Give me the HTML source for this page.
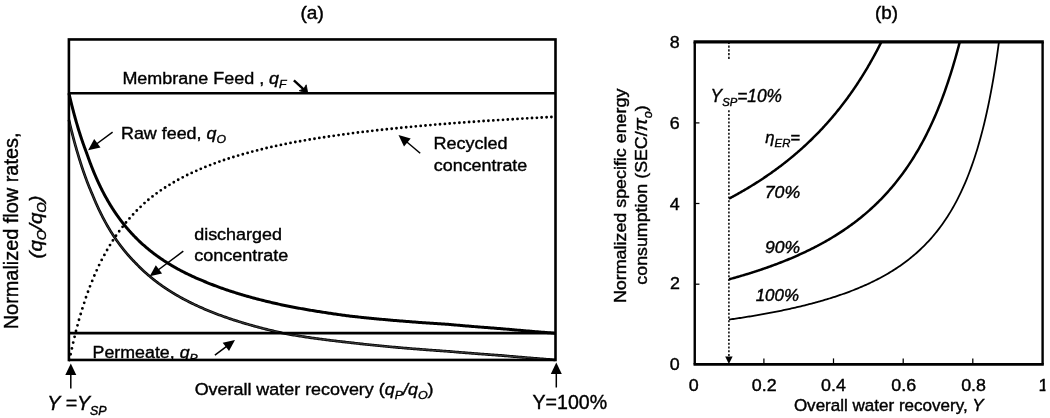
<!DOCTYPE html>
<html><head><meta charset="utf-8"><title>figure</title>
<style>
html,body{margin:0;padding:0;background:#fff;}
body{width:1050px;height:418px;overflow:hidden;}
svg{display:block;}
text{font-family:"Liberation Sans",Arial,sans-serif;fill:#000;stroke:#000;stroke-width:0.4px;}
.i{font-style:italic;}
</style></head><body>
<svg width="1050" height="418" viewBox="0 0 1050 418">
<rect width="1050" height="418" fill="#fff"/>
<defs>
<clipPath id="ca"><rect x="68.9" y="39.45" width="486.6" height="320.5"/></clipPath>
<clipPath id="cb"><rect x="694.75" y="41.85" width="347.8499999999999" height="322.54999999999995"/></clipPath>
<clipPath id="c1"><rect x="1030" y="370" width="15.5" height="30"/></clipPath>
</defs>

<!-- ===== (a) ===== -->
<g fill="none" stroke="#000" stroke-linejoin="round">
<path d="M69.4,360.0h0M70.6,354.2h0M71.9,348.4h0M73.2,342.6h0M74.6,336.8h0M76.0,331.0h0M77.5,325.3h0M79.0,319.7h0M80.7,314.0h0M82.4,308.4h0M84.2,302.8h0M86.0,297.2h0M88.0,291.7h0M90.0,286.3h0M92.2,280.9h0M94.4,275.5h0M96.7,270.3h0M99.1,265.1h0M101.7,259.9h0M104.4,254.9h0M107.1,250.0h0M110.0,245.1h0M112.9,240.4h0M116.0,235.7h0M119.2,231.2h0M122.6,226.8h0M126.0,222.5h0M129.5,218.4h0M133.1,214.4h0M136.8,210.5h0M140.6,206.8h0M144.5,203.1h0M148.4,199.7h0M152.5,196.4h0M156.6,193.3h0M160.8,190.3h0M165.1,187.5h0M169.5,184.8h0M173.8,182.2h0M178.2,179.7h0M182.7,177.3h0M187.2,175.0h0M191.7,172.9h0M196.3,170.8h0M200.8,168.8h0M205.4,166.9h0M210.1,165.1h0M214.7,163.3h0M219.4,161.6h0M224.0,160.0h0M228.7,158.5h0M233.4,157.0h0M238.1,155.6h0M242.8,154.2h0M247.6,152.9h0M252.3,151.6h0M257.1,150.4h0M261.8,149.2h0M266.6,148.0h0M271.4,146.9h0M276.1,145.9h0M280.9,144.9h0M285.7,143.9h0M290.5,142.9h0M295.3,142.0h0M300.1,141.2h0M304.9,140.3h0M309.7,139.5h0M314.5,138.7h0M319.3,137.9h0M324.1,137.2h0M328.9,136.5h0M333.7,135.8h0M338.6,135.1h0M343.4,134.4h0M348.2,133.8h0M353.0,133.1h0M357.9,132.5h0M362.7,131.9h0M367.5,131.4h0M372.3,130.8h0M377.2,130.2h0M382.0,129.7h0M386.8,129.2h0M391.7,128.7h0M396.5,128.2h0M401.3,127.7h0M406.2,127.2h0M411.0,126.8h0M415.8,126.3h0M420.7,125.9h0M425.5,125.5h0M430.4,125.1h0M435.2,124.6h0M440.0,124.2h0M444.9,123.9h0M449.7,123.5h0M454.5,123.1h0M459.4,122.7h0M464.2,122.4h0M469.1,122.0h0M473.9,121.7h0M478.8,121.3h0M483.6,121.0h0M488.4,120.7h0M493.3,120.4h0M498.1,120.1h0M503.0,119.8h0M507.8,119.5h0M512.7,119.2h0M517.5,118.9h0M522.4,118.6h0M527.2,118.3h0M532.0,118.0h0M536.9,117.8h0M541.7,117.5h0M546.6,117.2h0M551.4,117.0h0" stroke-width="2.85" stroke-linecap="round"/>
<path d="M68.90,119.78 L69.20,121.11 L69.51,122.42 L69.81,123.72 L70.11,125.00 L70.42,126.27 L70.72,127.53 L71.03,128.78 L71.33,130.02 L71.63,131.24 L71.94,132.45 L72.24,133.65 L72.54,134.84 L72.85,136.01 L73.15,137.18 L73.45,138.33 L73.76,139.47 L74.06,140.61 L74.36,141.73 L74.67,142.84 L74.97,143.94 L75.27,145.03 L75.58,146.11 L75.88,147.18 L76.18,148.24 L76.48,149.29 L76.79,150.33 L77.09,151.37 L77.39,152.39 L77.70,153.40 L78.00,154.41 L78.29,155.41 L78.59,156.39 L78.88,157.37 L79.18,158.35 L79.48,159.31 L79.77,160.26 L80.07,161.21 L80.36,162.15 L80.66,163.08 L80.95,164.00 L81.25,164.91 L81.54,165.82 L81.84,166.72 L82.13,167.61 L82.43,168.49 L82.72,169.37 L83.02,170.24 L83.31,171.10 L83.61,171.95 L83.90,172.80 L84.20,173.64 L84.49,174.48 L84.79,175.30 L85.08,176.12 L85.38,176.94 L85.67,177.74 L85.97,178.54 L86.26,179.34 L86.55,180.12 L86.85,180.91 L87.14,181.68 L87.44,182.45 L87.73,183.21 L88.02,183.97 L88.32,184.72 L88.61,185.47 L88.91,186.20 L89.20,186.94 L89.49,187.67 L89.79,188.39 L90.08,189.10 L90.38,189.82 L90.67,190.52 L90.96,191.22 L91.26,191.92 L91.55,192.61 L91.84,193.29 L92.14,193.97 L92.43,194.64 L92.72,195.31 L92.99,195.99 L93.26,196.65 L93.54,197.32 L93.81,197.97 L94.08,198.63 L94.35,199.28 L94.63,199.92 L94.90,200.56 L95.17,201.20 L95.44,201.83 L95.71,202.45 L95.99,203.07 L96.26,203.69 L96.53,204.30 L96.80,204.91 L97.07,205.52 L97.35,206.12 L97.62,206.72 L97.89,207.31 L98.16,207.90 L98.43,208.48 L98.71,209.06 L98.98,209.64 L99.25,210.21 L99.52,210.78 L99.79,211.35 L100.07,211.91 L100.34,212.46 L100.61,213.02 L100.88,213.57 L101.15,214.12 L101.42,214.66 L101.70,215.20 L101.97,215.73 L102.24,216.27 L102.51,216.80 L102.78,217.32 L103.05,217.85 L103.32,218.36 L103.60,218.88 L103.87,219.39 L104.14,219.90 L104.41,220.41 L104.68,220.91 L104.95,221.41 L105.22,221.91 L105.50,222.40 L105.77,222.89 L106.04,223.38 L106.31,223.86 L106.58,224.34 L106.85,224.82 L107.12,225.30 L107.39,225.77 L107.67,226.24 L107.94,226.71 L108.21,227.17 L108.48,227.63 L108.75,228.09 L109.02,228.55 L109.29,229.00 L109.56,229.45 L109.83,229.90 L110.10,230.34 L110.37,230.79 L110.65,231.23 L110.92,231.66 L111.19,232.10 L111.46,232.53 L111.73,232.96 L112.00,233.39 L112.27,233.81 L112.54,234.23 L112.81,234.65 L113.08,235.07 L113.35,235.48 L113.62,235.90 L113.89,236.31 L114.16,236.71 L114.44,237.12 L114.71,237.52 L114.98,237.92 L115.25,238.32 L115.52,238.72 L115.79,239.11 L116.06,239.51 L116.33,239.90 L116.60,240.28 L116.87,240.67 L117.14,241.05 L117.41,241.43 L117.68,241.81 L117.95,242.19 L118.22,242.56 L118.49,242.94 L118.76,243.31 L119.03,243.68 L119.30,244.04 L119.57,244.41 L119.84,244.77 L120.11,245.13 L120.38,245.49 L120.65,245.85 L120.92,246.20 L121.19,246.56 L121.46,246.91 L121.73,247.26 L122.00,247.61 L122.27,247.95 L122.54,248.30 L122.81,248.64 L123.08,248.98 L123.35,249.32 L123.62,249.66 L123.89,249.99 L124.16,250.32 L124.43,250.66 L124.70,250.99 L124.97,251.31 L125.24,251.64 L125.51,251.97 L125.78,252.29 L126.05,252.61 L126.32,252.93 L126.59,253.25 L126.86,253.57 L127.13,253.88 L127.39,254.20 L127.66,254.51 L127.93,254.82 L128.20,255.13 L128.47,255.44 L128.74,255.74 L129.01,256.05 L129.28,256.35 L129.55,256.65 L129.82,256.95 L130.09,257.25 L130.36,257.55 L130.63,257.84 L130.90,258.14 L131.17,258.43 L131.44,258.72 L131.71,259.01 L131.97,259.30 L132.24,259.59 L132.51,259.87 L132.78,260.16 L133.05,260.44 L133.32,260.72 L133.59,261.00 L133.86,261.28 L134.13,261.56 L134.40,261.84 L134.67,262.11 L134.94,262.39 L135.20,262.66 L135.47,262.93 L135.74,263.20 L136.01,263.47 L136.27,263.75 L136.53,264.02 L136.80,264.29 L137.06,264.56 L137.32,264.83 L137.58,265.10 L137.85,265.37 L138.11,265.63 L138.37,265.90 L138.63,266.16 L138.90,266.43 L139.16,266.69 L139.42,266.95 L139.68,267.21 L139.95,267.47 L140.21,267.72 L140.47,267.98 L140.73,268.23 L141.00,268.49 L141.26,268.74 L141.52,268.99 L141.78,269.24 L142.05,269.49 L142.31,269.74 L142.57,269.99 L142.84,270.23 L143.10,270.48 L143.36,270.72 L143.62,270.97 L143.89,271.21 L144.15,271.45 L144.41,271.69 L144.68,271.93 L144.94,272.17 L145.20,272.41 L145.47,272.64 L145.73,272.88 L145.99,273.11 L146.25,273.35 L146.52,273.58 L146.78,273.81 L147.04,274.04 L147.31,274.27 L147.57,274.50 L147.83,274.73 L148.10,274.96 L148.36,275.18 L148.62,275.41 L148.89,275.63 L149.15,275.86 L149.41,276.08 L149.68,276.30 L149.94,276.52 L150.20,276.74 L150.47,276.96 L150.73,277.18 L151.00,277.40 L151.26,277.61 L151.52,277.83 L151.79,278.05 L152.05,278.26 L152.31,278.47 L152.58,278.69 L152.84,278.90 L153.10,279.11 L153.37,279.32 L153.63,279.53 L153.90,279.74 L154.16,279.94 L154.42,280.15 L154.69,280.36 L154.95,280.56 L155.21,280.77 L155.48,280.97 L155.74,281.18 L156.01,281.38 L156.27,281.58 L156.53,281.78 L156.80,281.98 L157.06,282.18 L157.33,282.38 L157.59,282.58 L157.85,282.78 L158.12,282.97 L158.38,283.17 L158.65,283.36 L158.91,283.56 L159.18,283.75 L159.44,283.94 L159.70,284.14 L159.97,284.33 L160.23,284.52 L160.50,284.71 L160.76,284.90 L161.03,285.09 L161.29,285.28 L161.56,285.46 L161.82,285.65 L162.08,285.84 L162.35,286.02 L162.61,286.21 L162.88,286.39 L163.14,286.58 L163.41,286.76 L163.67,286.94 L163.94,287.12 L164.20,287.31 L164.47,287.49 L164.73,287.67 L165.00,287.85 L165.26,288.02 L165.52,288.20 L165.79,288.38 L166.05,288.56 L166.32,288.73 L166.58,288.91 L166.85,289.08 L167.11,289.26 L167.38,289.43 L167.64,289.60 L167.91,289.78 L168.17,289.95 L168.44,290.12 L168.70,290.29 L168.97,290.46 L169.23,290.63 L169.50,290.80 L169.76,290.97 L170.03,291.14 L170.29,291.30 L170.56,291.47 L170.83,291.64 L171.09,291.80 L171.36,291.97 L171.62,292.13 L171.89,292.30 L172.15,292.46 L172.42,292.63 L172.68,292.79 L172.95,292.95 L173.21,293.11 L173.48,293.27 L173.74,293.43 L174.01,293.59 L174.28,293.75 L174.54,293.91 L174.81,294.07 L175.07,294.23 L175.34,294.38 L175.60,294.54 L175.87,294.70 L176.13,294.85 L176.40,295.01 L176.67,295.16 L176.93,295.32 L177.20,295.47 L177.46,295.63 L177.73,295.78 L177.99,295.93 L179.24,296.64 L180.48,297.34 L181.72,298.02 L182.96,298.70 L184.20,299.37 L185.45,300.03 L186.69,300.67 L187.94,301.32 L189.18,301.95 L190.42,302.57 L191.67,303.18 L192.92,303.79 L194.16,304.39 L195.41,304.98 L196.66,305.56 L197.90,306.14 L199.15,306.70 L200.40,307.26 L201.65,307.82 L202.89,308.36 L204.14,308.90 L205.39,309.44 L206.64,309.96 L207.89,310.48 L209.14,310.99 L210.39,311.50 L211.64,312.00 L212.90,312.50 L214.15,312.99 L215.40,313.47 L216.65,313.95 L217.90,314.42 L219.16,314.89 L220.41,315.35 L221.66,315.80 L222.91,316.26 L224.17,316.70 L225.42,317.14 L226.68,317.58 L227.93,318.01 L229.18,318.44 L230.44,318.86 L231.69,319.28 L232.95,319.69 L234.20,320.10 L235.46,320.50 L236.72,320.90 L237.97,321.30 L239.23,321.69 L240.48,322.08 L241.74,322.46 L243.00,322.84 L244.25,323.22 L245.51,323.59 L246.77,323.96 L248.03,324.32 L249.28,324.68 L250.54,325.04 L251.80,325.40 L253.06,325.75 L254.32,326.09 L255.57,326.44 L256.83,326.78 L258.09,327.12 L259.35,327.45 L260.61,327.78 L261.87,328.11 L263.13,328.44 L264.39,328.76 L265.65,329.08 L266.90,329.39 L268.16,329.71 L269.42,330.02 L270.68,330.32 L271.94,330.63 L273.20,330.93 L274.46,331.23 L275.72,331.53 L276.98,331.82 L278.24,332.12 L279.51,332.40 L280.77,332.69 L282.03,332.98 L283.29,333.26 L284.55,333.54 L285.82,333.78 L287.09,334.01 L288.36,334.22 L289.63,334.44 L290.90,334.65 L292.17,334.87 L293.44,335.07 L294.72,335.28 L295.99,335.49 L297.26,335.69 L298.53,335.89 L299.80,336.09 L301.07,336.29 L302.34,336.48 L303.61,336.68 L304.88,336.87 L306.15,337.06 L307.42,337.24 L308.69,337.43 L309.96,337.61 L311.23,337.79 L312.50,337.97 L313.77,338.15 L315.04,338.33 L316.31,338.50 L317.58,338.68 L318.85,338.85 L320.12,339.02 L321.39,339.19 L322.66,339.35 L323.93,339.52 L325.20,339.68 L326.47,339.84 L327.74,340.00 L329.01,340.16 L330.27,340.32 L331.54,340.48 L332.81,340.63 L334.08,340.78 L335.35,340.93 L336.62,341.08 L337.89,341.23 L339.16,341.38 L340.42,341.53 L341.69,341.67 L342.96,341.81 L344.23,341.96 L345.50,342.10 L346.77,342.23 L348.04,342.37 L349.30,342.51 L350.57,342.65 L351.84,342.80 L353.10,342.95 L354.37,343.09 L355.64,343.24 L356.90,343.38 L358.17,343.52 L359.44,343.66 L360.70,343.80 L361.97,343.94 L363.24,344.08 L364.50,344.22 L365.77,344.35 L367.04,344.49 L368.30,344.62 L369.57,344.76 L370.83,344.89 L372.10,345.02 L373.37,345.15 L374.63,345.28 L375.90,345.40 L377.17,345.53 L378.43,345.66 L379.70,345.78 L380.96,345.91 L382.23,346.03 L383.50,346.15 L384.76,346.27 L386.03,346.39 L387.29,346.51 L388.56,346.63 L389.83,346.75 L391.09,346.86 L392.36,346.98 L393.63,347.09 L394.89,347.21 L396.16,347.32 L397.42,347.43 L398.69,347.54 L399.96,347.65 L401.22,347.76 L402.49,347.87 L403.75,347.98 L405.02,348.09 L406.29,348.19 L407.55,348.30 L408.82,348.41 L410.08,348.51 L411.35,348.61 L412.62,348.72 L413.88,348.82 L415.15,348.92 L416.41,349.02 L417.68,349.12 L418.95,349.22 L420.21,349.32 L421.48,349.42 L422.74,349.51 L424.01,349.61 L425.28,349.71 L426.54,349.80 L427.81,349.90 L429.07,349.99 L430.34,350.08 L431.61,350.17 L432.87,350.27 L434.14,350.36 L435.40,350.45 L436.67,350.54 L437.94,350.63 L439.20,350.72 L440.47,350.80 L441.73,350.89 L443.00,350.98 L444.27,351.07 L445.53,351.15 L446.80,351.24 L448.06,351.33 L449.33,351.44 L450.59,351.55 L451.85,351.66 L453.12,351.76 L454.38,351.87 L455.65,351.98 L456.91,352.08 L458.17,352.19 L459.44,352.29 L460.70,352.39 L461.97,352.50 L463.23,352.60 L464.50,352.70 L465.76,352.80 L467.02,352.90 L468.29,353.01 L469.55,353.11 L470.82,353.21 L472.08,353.30 L473.35,353.40 L474.61,353.50 L475.87,353.60 L477.14,353.70 L478.40,353.79 L479.67,353.89 L480.93,353.99 L482.20,354.08 L483.46,354.18 L484.72,354.27 L485.99,354.37 L487.25,354.46 L488.52,354.55 L489.78,354.65 L491.05,354.74 L492.31,354.83 L493.58,354.92 L494.84,355.01 L496.10,355.10 L497.37,355.19 L498.63,355.28 L499.90,355.37 L501.16,355.46 L502.43,355.57 L503.69,355.68 L504.95,355.79 L506.22,355.90 L507.48,356.01 L508.74,356.12 L510.01,356.23 L511.27,356.34 L512.53,356.45 L513.80,356.56 L515.06,356.67 L516.32,356.77 L517.59,356.88 L518.85,356.99 L520.11,357.10 L521.38,357.20 L522.64,357.31 L523.90,357.41 L525.17,357.52 L526.43,357.62 L527.70,357.73 L528.96,357.83 L530.22,357.94 L531.49,358.04 L532.75,358.14 L534.01,358.25 L535.28,358.35 L536.54,358.45 L537.81,358.55 L539.07,358.66 L540.33,358.76 L541.60,358.86 L542.86,358.96 L544.12,359.06 L545.39,359.16 L546.65,359.26 L547.92,359.36 L549.18,359.46 L550.44,359.56 L551.71,359.66 L552.97,359.75 L554.24,359.85 L555.50,359.95" stroke-width="2.7"/>
<path d="M68.90,119.78 L69.20,121.11 L69.51,122.42 L69.81,123.72 L70.11,125.00 L70.42,126.27 L70.72,127.53 L71.03,128.78 L71.33,130.02 L71.63,131.24 L71.94,132.45 L72.24,133.65 L72.54,134.84 L72.85,136.01 L73.15,137.18 L73.45,138.33 L73.76,139.47 L74.06,140.61 L74.36,141.73 L74.67,142.84 L74.97,143.94 L75.27,145.03 L75.58,146.11 L75.88,147.18 L76.18,148.24 L76.48,149.29 L76.79,150.33 L77.09,151.37 L77.39,152.39 L77.70,153.40 L78.00,154.41 L78.29,155.41 L78.59,156.39 L78.88,157.37 L79.18,158.35 L79.48,159.31 L79.77,160.26 L80.07,161.21 L80.36,162.15 L80.66,163.08 L80.95,164.00 L81.25,164.91 L81.54,165.82 L81.84,166.72 L82.13,167.61 L82.43,168.49 L82.72,169.37 L83.02,170.24 L83.31,171.10 L83.61,171.95 L83.90,172.80 L84.20,173.64 L84.49,174.48 L84.79,175.30 L85.08,176.12 L85.38,176.94 L85.67,177.74 L85.97,178.54 L86.26,179.34 L86.55,180.12 L86.85,180.91 L87.14,181.68 L87.44,182.45 L87.73,183.21 L88.02,183.97 L88.32,184.72 L88.61,185.47 L88.91,186.20 L89.20,186.94 L89.49,187.67 L89.79,188.39 L90.08,189.10 L90.38,189.82 L90.67,190.52 L90.96,191.22 L91.26,191.92 L91.55,192.61 L91.84,193.29 L92.14,193.97 L92.43,194.64 L92.72,195.31 L92.99,195.99 L93.26,196.65 L93.54,197.32 L93.81,197.97 L94.08,198.63 L94.35,199.28 L94.63,199.92 L94.90,200.56 L95.17,201.20 L95.44,201.83 L95.71,202.45 L95.99,203.07 L96.26,203.69 L96.53,204.30 L96.80,204.91 L97.07,205.52 L97.35,206.12 L97.62,206.72 L97.89,207.31 L98.16,207.90 L98.43,208.48 L98.71,209.06 L98.98,209.64 L99.25,210.21 L99.52,210.78 L99.79,211.35 L100.07,211.91 L100.34,212.46 L100.61,213.02 L100.88,213.57 L101.15,214.12 L101.42,214.66 L101.70,215.20 L101.97,215.73 L102.24,216.27 L102.51,216.80 L102.78,217.32 L103.05,217.85 L103.32,218.36 L103.60,218.88 L103.87,219.39 L104.14,219.90 L104.41,220.41 L104.68,220.91 L104.95,221.41 L105.22,221.91 L105.50,222.40 L105.77,222.89 L106.04,223.38 L106.31,223.86 L106.58,224.34 L106.85,224.82 L107.12,225.30 L107.39,225.77 L107.67,226.24 L107.94,226.71 L108.21,227.17 L108.48,227.63 L108.75,228.09 L109.02,228.55 L109.29,229.00 L109.56,229.45 L109.83,229.90 L110.10,230.34 L110.37,230.79 L110.65,231.23 L110.92,231.66 L111.19,232.10 L111.46,232.53 L111.73,232.96 L112.00,233.39 L112.27,233.81 L112.54,234.23 L112.81,234.65 L113.08,235.07 L113.35,235.48 L113.62,235.90 L113.89,236.31 L114.16,236.71 L114.44,237.12 L114.71,237.52 L114.98,237.92 L115.25,238.32 L115.52,238.72 L115.79,239.11 L116.06,239.51 L116.33,239.90 L116.60,240.28 L116.87,240.67 L117.14,241.05 L117.41,241.43 L117.68,241.81 L117.95,242.19 L118.22,242.56 L118.49,242.94 L118.76,243.31 L119.03,243.68 L119.30,244.04 L119.57,244.41 L119.84,244.77 L120.11,245.13 L120.38,245.49 L120.65,245.85 L120.92,246.20 L121.19,246.56 L121.46,246.91 L121.73,247.26 L122.00,247.61 L122.27,247.95 L122.54,248.30 L122.81,248.64 L123.08,248.98 L123.35,249.32 L123.62,249.66 L123.89,249.99 L124.16,250.32 L124.43,250.66 L124.70,250.99 L124.97,251.31 L125.24,251.64 L125.51,251.97 L125.78,252.29 L126.05,252.61 L126.32,252.93 L126.59,253.25 L126.86,253.57 L127.13,253.88 L127.39,254.20 L127.66,254.51 L127.93,254.82 L128.20,255.13 L128.47,255.44 L128.74,255.74 L129.01,256.05 L129.28,256.35 L129.55,256.65 L129.82,256.95 L130.09,257.25 L130.36,257.55 L130.63,257.84 L130.90,258.14 L131.17,258.43 L131.44,258.72 L131.71,259.01 L131.97,259.30 L132.24,259.59 L132.51,259.87 L132.78,260.16 L133.05,260.44 L133.32,260.72 L133.59,261.00 L133.86,261.28 L134.13,261.56 L134.40,261.84 L134.67,262.11 L134.94,262.39 L135.20,262.66 L135.47,262.93 L135.74,263.20 L136.01,263.47 L136.27,263.75 L136.53,264.02 L136.80,264.29 L137.06,264.56 L137.32,264.83 L137.58,265.10 L137.85,265.37 L138.11,265.63 L138.37,265.90 L138.63,266.16 L138.90,266.43 L139.16,266.69 L139.42,266.95 L139.68,267.21 L139.95,267.47 L140.21,267.72 L140.47,267.98 L140.73,268.23 L141.00,268.49 L141.26,268.74 L141.52,268.99 L141.78,269.24 L142.05,269.49 L142.31,269.74 L142.57,269.99 L142.84,270.23 L143.10,270.48 L143.36,270.72 L143.62,270.97 L143.89,271.21 L144.15,271.45 L144.41,271.69 L144.68,271.93 L144.94,272.17 L145.20,272.41 L145.47,272.64 L145.73,272.88 L145.99,273.11 L146.25,273.35 L146.52,273.58 L146.78,273.81 L147.04,274.04 L147.31,274.27 L147.57,274.50 L147.83,274.73 L148.10,274.96 L148.36,275.18 L148.62,275.41 L148.89,275.63 L149.15,275.86 L149.41,276.08 L149.68,276.30 L149.94,276.52 L150.20,276.74 L150.47,276.96 L150.73,277.18 L151.00,277.40 L151.26,277.61 L151.52,277.83 L151.79,278.05 L152.05,278.26 L152.31,278.47 L152.58,278.69 L152.84,278.90 L153.10,279.11 L153.37,279.32 L153.63,279.53 L153.90,279.74 L154.16,279.94 L154.42,280.15 L154.69,280.36 L154.95,280.56 L155.21,280.77 L155.48,280.97 L155.74,281.18 L156.01,281.38 L156.27,281.58 L156.53,281.78 L156.80,281.98 L157.06,282.18 L157.33,282.38 L157.59,282.58 L157.85,282.78 L158.12,282.97 L158.38,283.17 L158.65,283.36 L158.91,283.56 L159.18,283.75 L159.44,283.94 L159.70,284.14 L159.97,284.33 L160.23,284.52 L160.50,284.71 L160.76,284.90 L161.03,285.09 L161.29,285.28 L161.56,285.46 L161.82,285.65 L162.08,285.84 L162.35,286.02 L162.61,286.21 L162.88,286.39 L163.14,286.58 L163.41,286.76 L163.67,286.94 L163.94,287.12 L164.20,287.31 L164.47,287.49 L164.73,287.67 L165.00,287.85 L165.26,288.02 L165.52,288.20 L165.79,288.38 L166.05,288.56 L166.32,288.73 L166.58,288.91 L166.85,289.08 L167.11,289.26 L167.38,289.43 L167.64,289.60 L167.91,289.78 L168.17,289.95 L168.44,290.12 L168.70,290.29 L168.97,290.46 L169.23,290.63 L169.50,290.80 L169.76,290.97 L170.03,291.14 L170.29,291.30 L170.56,291.47 L170.83,291.64 L171.09,291.80 L171.36,291.97 L171.62,292.13 L171.89,292.30 L172.15,292.46 L172.42,292.63 L172.68,292.79 L172.95,292.95 L173.21,293.11 L173.48,293.27 L173.74,293.43 L174.01,293.59 L174.28,293.75 L174.54,293.91 L174.81,294.07 L175.07,294.23 L175.34,294.38 L175.60,294.54 L175.87,294.70 L176.13,294.85 L176.40,295.01 L176.67,295.16 L176.93,295.32 L177.20,295.47 L177.46,295.63 L177.73,295.78 L177.99,295.93 L179.24,296.64 L180.48,297.34 L181.72,298.02 L182.96,298.70 L184.20,299.37 L185.45,300.03 L186.69,300.67 L187.94,301.32 L189.18,301.95 L190.42,302.57 L191.67,303.18 L192.92,303.79 L194.16,304.39 L195.41,304.98 L196.66,305.56 L197.90,306.14 L199.15,306.70 L200.40,307.26 L201.65,307.82 L202.89,308.36 L204.14,308.90 L205.39,309.44 L206.64,309.96 L207.89,310.48 L209.14,310.99 L210.39,311.50 L211.64,312.00 L212.90,312.50 L214.15,312.99 L215.40,313.47 L216.65,313.95 L217.90,314.42 L219.16,314.89 L220.41,315.35 L221.66,315.80 L222.91,316.26 L224.17,316.70 L225.42,317.14 L226.68,317.58 L227.93,318.01 L229.18,318.44 L230.44,318.86 L231.69,319.28 L232.95,319.69 L234.20,320.10 L235.46,320.50 L236.72,320.90 L237.97,321.30 L239.23,321.69 L240.48,322.08 L241.74,322.46 L243.00,322.84 L244.25,323.22 L245.51,323.59 L246.77,323.96 L248.03,324.32 L249.28,324.68 L250.54,325.04 L251.80,325.40 L253.06,325.75 L254.32,326.09 L255.57,326.44 L256.83,326.78 L258.09,327.12 L259.35,327.45 L260.61,327.78 L261.87,328.11 L263.13,328.44 L264.39,328.76 L265.65,329.08 L266.90,329.39 L268.16,329.71 L269.42,330.02 L270.68,330.32 L271.94,330.63 L273.20,330.93 L274.46,331.23 L275.72,331.53 L276.98,331.82 L278.24,332.12 L279.51,332.40 L280.77,332.69 L282.03,332.98 L283.29,333.26 L284.55,333.54 L285.82,333.78 L287.09,334.01 L288.36,334.22 L289.63,334.44 L290.90,334.65 L292.17,334.87 L293.44,335.07 L294.72,335.28 L295.99,335.49 L297.26,335.69 L298.53,335.89 L299.80,336.09 L301.07,336.29 L302.34,336.48 L303.61,336.68 L304.88,336.87 L306.15,337.06 L307.42,337.24 L308.69,337.43 L309.96,337.61 L311.23,337.79 L312.50,337.97 L313.77,338.15 L315.04,338.33 L316.31,338.50 L317.58,338.68 L318.85,338.85 L320.12,339.02 L321.39,339.19 L322.66,339.35 L323.93,339.52 L325.20,339.68 L326.47,339.84 L327.74,340.00 L329.01,340.16 L330.27,340.32 L331.54,340.48 L332.81,340.63 L334.08,340.78 L335.35,340.93 L336.62,341.08 L337.89,341.23 L339.16,341.38 L340.42,341.53 L341.69,341.67 L342.96,341.81 L344.23,341.96 L345.50,342.10 L346.77,342.23 L348.04,342.37 L349.30,342.51 L350.57,342.65 L351.84,342.80 L353.10,342.95 L354.37,343.09 L355.64,343.24 L356.90,343.38 L358.17,343.52 L359.44,343.66 L360.70,343.80 L361.97,343.94 L363.24,344.08 L364.50,344.22 L365.77,344.35 L367.04,344.49 L368.30,344.62 L369.57,344.76 L370.83,344.89 L372.10,345.02 L373.37,345.15 L374.63,345.28 L375.90,345.40 L377.17,345.53 L378.43,345.66 L379.70,345.78 L380.96,345.91 L382.23,346.03 L383.50,346.15 L384.76,346.27 L386.03,346.39 L387.29,346.51 L388.56,346.63 L389.83,346.75 L391.09,346.86 L392.36,346.98 L393.63,347.09 L394.89,347.21 L396.16,347.32 L397.42,347.43 L398.69,347.54 L399.96,347.65 L401.22,347.76 L402.49,347.87 L403.75,347.98 L405.02,348.09 L406.29,348.19 L407.55,348.30 L408.82,348.41 L410.08,348.51 L411.35,348.61 L412.62,348.72 L413.88,348.82 L415.15,348.92 L416.41,349.02 L417.68,349.12 L418.95,349.22 L420.21,349.32 L421.48,349.42 L422.74,349.51 L424.01,349.61 L425.28,349.71 L426.54,349.80 L427.81,349.90 L429.07,349.99 L430.34,350.08 L431.61,350.17 L432.87,350.27 L434.14,350.36 L435.40,350.45 L436.67,350.54 L437.94,350.63 L439.20,350.72 L440.47,350.80 L441.73,350.89 L443.00,350.98 L444.27,351.07 L445.53,351.15 L446.80,351.24 L448.06,351.33 L449.33,351.44 L450.59,351.55 L451.85,351.66 L453.12,351.76 L454.38,351.87 L455.65,351.98 L456.91,352.08 L458.17,352.19 L459.44,352.29 L460.70,352.39 L461.97,352.50 L463.23,352.60 L464.50,352.70 L465.76,352.80 L467.02,352.90 L468.29,353.01 L469.55,353.11 L470.82,353.21 L472.08,353.30 L473.35,353.40 L474.61,353.50 L475.87,353.60 L477.14,353.70 L478.40,353.79 L479.67,353.89 L480.93,353.99 L482.20,354.08 L483.46,354.18 L484.72,354.27 L485.99,354.37 L487.25,354.46 L488.52,354.55 L489.78,354.65 L491.05,354.74 L492.31,354.83 L493.58,354.92 L494.84,355.01 L496.10,355.10 L497.37,355.19 L498.63,355.28 L499.90,355.37 L501.16,355.46 L502.43,355.57 L503.69,355.68 L504.95,355.79 L506.22,355.90 L507.48,356.01 L508.74,356.12 L510.01,356.23 L511.27,356.34 L512.53,356.45 L513.80,356.56 L515.06,356.67 L516.32,356.77 L517.59,356.88 L518.85,356.99 L520.11,357.10 L521.38,357.20 L522.64,357.31 L523.90,357.41 L525.17,357.52 L526.43,357.62 L527.70,357.73 L528.96,357.83 L530.22,357.94 L531.49,358.04 L532.75,358.14 L534.01,358.25 L535.28,358.35 L536.54,358.45 L537.81,358.55 L539.07,358.66 L540.33,358.76 L541.60,358.86 L542.86,358.96 L544.12,359.06 L545.39,359.16 L546.65,359.26 L547.92,359.36 L549.18,359.46 L550.44,359.56 L551.71,359.66 L552.97,359.75 L554.24,359.85 L555.50,359.95" stroke-width="0.7" stroke="#666"/>
<path d="M68.90,93.10 L69.20,94.42 L69.51,95.74 L69.81,97.03 L70.11,98.32 L70.42,99.59 L70.72,100.85 L71.03,102.10 L71.33,103.33 L71.63,104.55 L71.94,105.76 L72.24,106.96 L72.54,108.15 L72.85,109.33 L73.15,110.49 L73.45,111.65 L73.76,112.79 L74.06,113.92 L74.36,115.04 L74.67,116.15 L74.97,117.26 L75.27,118.35 L75.58,119.43 L75.88,120.50 L76.18,121.56 L76.48,122.61 L76.79,123.65 L77.09,124.68 L77.39,125.70 L77.70,126.72 L78.00,127.72 L78.30,128.72 L78.60,129.70 L78.91,130.68 L79.21,131.65 L79.51,132.61 L79.81,133.57 L80.12,134.51 L80.42,135.45 L80.72,136.37 L81.02,137.29 L81.33,138.21 L81.63,139.11 L81.93,140.01 L82.23,140.89 L82.53,141.78 L82.84,142.65 L83.14,143.52 L83.44,144.38 L83.74,145.23 L84.04,146.07 L84.34,146.91 L84.65,147.74 L84.95,148.57 L85.25,149.38 L85.55,150.19 L85.85,151.00 L86.15,151.80 L86.46,152.59 L86.76,153.37 L87.05,154.15 L87.32,154.93 L87.59,155.71 L87.86,156.48 L88.13,157.25 L88.40,158.01 L88.67,158.76 L88.94,159.51 L89.21,160.25 L89.48,160.99 L89.75,161.72 L90.02,162.44 L90.29,163.16 L90.56,163.88 L90.83,164.59 L91.10,165.29 L91.37,165.99 L91.64,166.68 L91.91,167.37 L92.18,168.06 L92.45,168.74 L92.72,169.41 L92.99,170.08 L93.26,170.75 L93.53,171.41 L93.80,172.06 L94.07,172.71 L94.33,173.36 L94.60,174.00 L94.87,174.64 L95.14,175.27 L95.41,175.90 L95.68,176.52 L95.95,177.14 L96.22,177.76 L96.49,178.37 L96.76,178.97 L97.03,179.58 L97.30,180.17 L97.57,180.77 L97.84,181.36 L98.11,181.95 L98.38,182.53 L98.64,183.11 L98.91,183.68 L99.18,184.25 L99.45,184.82 L99.72,185.39 L99.99,185.95 L100.26,186.50 L100.53,187.06 L100.80,187.60 L101.07,188.15 L101.34,188.69 L101.61,189.23 L101.88,189.77 L102.14,190.30 L102.41,190.83 L102.68,191.35 L102.95,191.87 L103.22,192.39 L103.49,192.91 L103.76,193.42 L104.03,193.93 L104.30,194.43 L104.57,194.93 L104.83,195.43 L105.10,195.93 L105.37,196.42 L105.64,196.91 L105.91,197.40 L106.18,197.88 L106.45,198.36 L106.72,198.84 L106.99,199.32 L107.25,199.79 L107.52,200.26 L107.79,200.73 L108.06,201.19 L108.33,201.65 L108.60,202.11 L108.87,202.57 L109.14,203.02 L109.40,203.47 L109.67,203.92 L109.94,204.36 L110.21,204.81 L110.48,205.25 L110.75,205.68 L111.02,206.12 L111.28,206.55 L111.55,206.98 L111.82,207.41 L112.09,207.83 L112.36,208.25 L112.63,208.68 L112.90,209.09 L113.17,209.51 L113.43,209.92 L113.70,210.33 L113.97,210.74 L114.24,211.15 L114.51,211.55 L114.78,211.95 L115.04,212.35 L115.31,212.75 L115.58,213.14 L115.85,213.54 L116.12,213.93 L116.39,214.32 L116.66,214.70 L116.92,215.09 L117.19,215.47 L117.46,215.85 L117.73,216.23 L118.00,216.60 L118.27,216.98 L118.53,217.35 L118.80,217.72 L119.07,218.09 L119.34,218.45 L119.61,218.82 L119.88,219.18 L120.14,219.54 L120.41,219.90 L120.68,220.26 L120.95,220.61 L121.22,220.96 L121.49,221.32 L121.75,221.66 L122.02,222.01 L122.29,222.36 L122.56,222.70 L122.83,223.04 L123.09,223.38 L123.36,223.72 L123.63,224.06 L123.90,224.39 L124.17,224.73 L124.44,225.06 L124.70,225.39 L124.97,225.72 L125.24,226.05 L125.51,226.37 L125.78,226.69 L126.04,227.02 L126.31,227.34 L126.58,227.66 L126.85,227.97 L127.12,228.29 L127.39,228.60 L127.65,228.92 L127.92,229.23 L128.19,229.54 L128.46,229.84 L128.73,230.15 L128.99,230.46 L129.26,230.76 L129.53,231.06 L129.80,231.36 L130.07,231.66 L130.33,231.96 L130.60,232.26 L130.87,232.55 L131.14,232.84 L131.41,233.14 L131.67,233.43 L131.94,233.72 L132.21,234.01 L132.48,234.29 L132.75,234.58 L133.01,234.86 L133.28,235.14 L133.55,235.43 L133.82,235.71 L134.09,235.99 L134.36,236.26 L134.62,236.54 L134.89,236.81 L135.16,237.09 L135.43,237.36 L135.70,237.63 L135.96,237.90 L136.23,238.17 L136.50,238.44 L136.77,238.70 L137.04,238.97 L137.30,239.23 L137.57,239.50 L137.84,239.76 L138.11,240.02 L138.38,240.28 L138.64,240.54 L138.91,240.79 L139.18,241.05 L139.45,241.30 L139.72,241.56 L139.98,241.81 L140.25,242.06 L140.52,242.31 L140.79,242.56 L141.06,242.81 L141.32,243.06 L141.59,243.30 L141.86,243.55 L142.13,243.79 L142.40,244.03 L142.66,244.28 L142.93,244.52 L143.20,244.76 L143.47,245.00 L143.74,245.23 L144.00,245.47 L144.27,245.71 L144.54,245.94 L144.81,246.17 L145.08,246.41 L145.34,246.64 L145.61,246.87 L145.88,247.10 L146.15,247.33 L146.42,247.56 L146.68,247.78 L146.95,248.01 L147.22,248.23 L147.49,248.46 L147.76,248.68 L148.02,248.90 L148.29,249.13 L148.56,249.35 L148.83,249.57 L149.10,249.78 L149.36,250.00 L149.63,250.22 L149.90,250.43 L150.17,250.65 L150.44,250.86 L150.70,251.08 L150.97,251.29 L151.24,251.50 L151.51,251.71 L151.78,251.92 L152.04,252.13 L152.31,252.34 L152.58,252.55 L152.85,252.75 L153.12,252.96 L153.38,253.17 L153.65,253.37 L153.92,253.57 L154.19,253.78 L154.46,253.98 L154.73,254.18 L154.99,254.38 L155.26,254.58 L155.53,254.78 L155.80,254.98 L156.07,255.17 L156.33,255.37 L156.60,255.57 L156.87,255.76 L157.14,255.95 L157.41,256.15 L157.67,256.34 L157.94,256.53 L158.21,256.72 L158.48,256.91 L158.75,257.10 L159.02,257.29 L159.28,257.48 L159.55,257.67 L159.82,257.86 L160.09,258.04 L160.36,258.23 L160.62,258.41 L160.89,258.60 L161.16,258.78 L161.43,258.96 L161.70,259.15 L161.97,259.33 L162.23,259.51 L162.50,259.69 L162.77,259.87 L163.04,260.05 L163.31,260.23 L163.58,260.40 L163.84,260.58 L164.11,260.76 L164.38,260.93 L164.65,261.11 L164.92,261.28 L165.18,261.45 L165.45,261.63 L165.72,261.80 L165.99,261.97 L166.26,262.14 L166.53,262.31 L166.79,262.48 L167.06,262.65 L167.33,262.82 L167.60,262.99 L167.87,263.16 L168.14,263.32 L168.40,263.49 L168.67,263.66 L168.94,263.82 L169.21,263.99 L169.48,264.15 L169.75,264.31 L170.01,264.48 L170.28,264.64 L170.55,264.80 L170.82,264.96 L171.09,265.12 L171.36,265.28 L171.63,265.44 L171.89,265.60 L172.16,265.76 L172.43,265.92 L172.70,266.07 L172.97,266.23 L173.24,266.39 L173.50,266.54 L173.77,266.70 L174.04,266.85 L174.31,267.01 L174.58,267.16 L174.85,267.31 L175.12,267.47 L175.38,267.62 L175.65,267.77 L175.92,267.92 L176.19,268.07 L176.46,268.22 L176.73,268.37 L177.00,268.52 L177.26,268.67 L177.53,268.82 L177.80,268.96 L178.06,269.11 L179.32,269.79 L180.58,270.46 L181.83,271.12 L183.09,271.77 L184.34,272.41 L185.60,273.04 L186.85,273.66 L188.11,274.27 L189.36,274.88 L190.62,275.47 L191.88,276.06 L193.13,276.63 L194.39,277.20 L195.64,277.77 L196.90,278.32 L198.16,278.87 L199.41,279.40 L200.67,279.94 L201.93,280.46 L203.18,280.98 L204.44,281.49 L205.69,282.00 L206.94,282.52 L208.19,283.03 L209.44,283.53 L210.69,284.03 L211.94,284.52 L213.19,285.00 L214.45,285.48 L215.70,285.96 L216.95,286.42 L218.20,286.89 L219.45,287.34 L220.71,287.79 L221.96,288.24 L223.21,288.68 L224.46,289.12 L225.72,289.55 L226.97,289.98 L228.23,290.40 L229.48,290.81 L230.73,291.23 L231.99,291.63 L233.24,292.04 L234.50,292.44 L235.75,292.83 L237.01,293.22 L238.26,293.61 L239.52,293.99 L240.78,294.37 L242.03,294.74 L243.29,295.11 L244.54,295.48 L245.80,295.84 L247.06,296.20 L248.31,296.55 L249.57,296.90 L250.83,297.25 L252.09,297.60 L253.34,297.94 L254.60,298.27 L255.86,298.61 L257.12,298.94 L258.37,299.27 L259.63,299.59 L260.89,299.91 L262.15,300.23 L263.41,300.55 L264.67,300.86 L265.93,301.17 L267.18,301.47 L268.44,301.78 L269.70,302.08 L270.96,302.38 L272.22,302.67 L273.48,302.97 L274.74,303.25 L276.00,303.54 L277.26,303.83 L278.52,304.11 L279.78,304.39 L281.04,304.67 L282.30,304.94 L283.56,305.21 L284.82,305.48 L286.08,305.74 L287.35,305.99 L288.61,306.24 L289.87,306.49 L291.14,306.73 L292.40,306.98 L293.66,307.22 L294.93,307.45 L296.19,307.69 L297.45,307.92 L298.72,308.15 L299.98,308.38 L301.24,308.61 L302.51,308.84 L303.77,309.06 L305.04,309.28 L306.30,309.50 L307.56,309.72 L308.83,309.93 L310.09,310.15 L311.35,310.36 L312.62,310.57 L313.88,310.78 L315.15,310.99 L316.41,311.19 L317.67,311.40 L318.94,311.60 L320.20,311.80 L321.47,312.00 L322.73,312.20 L323.99,312.39 L325.26,312.59 L326.52,312.78 L327.79,312.97 L329.05,313.16 L330.32,313.35 L331.58,313.53 L332.84,313.72 L334.11,313.90 L335.37,314.09 L336.64,314.27 L337.90,314.45 L339.17,314.62 L340.43,314.80 L341.69,314.98 L342.96,315.15 L344.22,315.32 L345.49,315.49 L346.75,315.67 L348.02,315.83 L349.28,316.00 L350.55,316.16 L351.81,316.30 L353.08,316.44 L354.35,316.58 L355.62,316.72 L356.88,316.86 L358.15,317.00 L359.42,317.13 L360.69,317.26 L361.95,317.40 L363.22,317.53 L364.49,317.66 L365.75,317.79 L367.02,317.92 L368.29,318.04 L369.56,318.17 L370.82,318.30 L372.09,318.42 L373.36,318.54 L374.62,318.67 L375.89,318.79 L377.16,318.91 L378.43,319.03 L379.69,319.14 L380.96,319.26 L382.23,319.38 L383.49,319.49 L384.76,319.61 L386.03,319.72 L387.29,319.83 L388.56,319.95 L389.83,320.06 L391.09,320.17 L392.36,320.28 L393.63,320.38 L394.89,320.49 L396.16,320.60 L397.43,320.70 L398.69,320.81 L399.96,320.91 L401.23,321.02 L402.49,321.12 L403.76,321.22 L405.03,321.32 L406.29,321.42 L407.56,321.52 L408.83,321.62 L410.09,321.72 L411.36,321.82 L412.63,321.91 L413.89,322.01 L415.16,322.10 L416.43,322.20 L417.69,322.29 L418.96,322.38 L420.23,322.47 L421.49,322.57 L422.76,322.66 L424.03,322.75 L425.29,322.84 L426.56,322.92 L427.83,323.01 L429.09,323.10 L430.36,323.19 L431.62,323.27 L432.89,323.36 L434.16,323.44 L435.42,323.53 L436.69,323.61 L437.96,323.69 L439.22,323.77 L440.49,323.86 L441.75,323.94 L443.02,324.02 L444.29,324.10 L445.55,324.18 L446.82,324.26 L448.09,324.35 L449.35,324.46 L450.61,324.58 L451.88,324.69 L453.14,324.80 L454.40,324.91 L455.67,325.02 L456.93,325.13 L458.19,325.24 L459.46,325.35 L460.72,325.46 L461.98,325.57 L463.25,325.67 L464.51,325.78 L465.78,325.89 L467.04,325.99 L468.30,326.10 L469.57,326.20 L470.83,326.31 L472.10,326.41 L473.36,326.51 L474.62,326.62 L475.89,326.72 L477.15,326.82 L478.42,326.92 L479.68,327.02 L480.94,327.13 L482.21,327.23 L483.47,327.33 L484.74,327.42 L486.00,327.52 L487.26,327.62 L488.53,327.72 L489.79,327.82 L491.06,327.91 L492.32,328.01 L493.58,328.11 L494.85,328.20 L496.11,328.30 L497.38,328.39 L498.64,328.49 L499.91,328.58 L501.17,328.68 L502.43,328.78 L503.70,328.90 L504.96,329.01 L506.22,329.13 L507.49,329.24 L508.75,329.35 L510.01,329.46 L511.27,329.57 L512.54,329.69 L513.80,329.80 L515.06,329.91 L516.33,330.02 L517.59,330.13 L518.85,330.24 L520.12,330.35 L521.38,330.45 L522.64,330.56 L523.91,330.67 L525.17,330.78 L526.43,330.89 L527.70,330.99 L528.96,331.10 L530.23,331.21 L531.49,331.31 L532.75,331.42 L534.02,331.52 L535.28,331.63 L536.54,331.73 L537.81,331.84 L539.07,331.94 L540.33,332.04 L541.60,332.15 L542.86,332.25 L544.13,332.35 L545.39,332.46 L546.65,332.56 L547.92,332.66 L549.18,332.76 L550.44,332.86 L551.71,332.96 L552.97,333.06 L554.24,333.16 L555.50,333.26" stroke-width="3.0"/>
<line x1="68.9" y1="93.3" x2="555.5" y2="93.3" stroke-width="2.5"/>
<line x1="68.9" y1="333.1" x2="555.5" y2="333.1" stroke-width="2.6"/>
<rect x="68.9" y="39.45" width="486.6" height="320.5" stroke-width="2.6" stroke-linejoin="miter"/>
</g>
<text transform="translate(300.48,19.10) scale(1.0886,1)" font-size="17.5">(a)</text>
<text transform="translate(122.40,84.10) scale(1.0387,1)" font-size="17.3">Membrane Feed , <tspan class="i">q</tspan><tspan class="i" font-size="11.8" dy="3.8">F</tspan></text>
<text transform="translate(121.01,139.10) scale(1.0340,1)" font-size="17.3">Raw feed, <tspan class="i">q</tspan><tspan class="i" font-size="11.8" dy="3.8">O</tspan></text>
<text transform="translate(433.40,149.20) scale(1.0420,1)" font-size="17.3">Recycled</text>
<text transform="translate(433.78,170.90) scale(1.0353,1)" font-size="17.3">concentrate</text>
<text transform="translate(194.18,240.10) scale(1.0378,1)" font-size="17.3">discharged</text>
<text transform="translate(194.18,261.20) scale(1.0431,1)" font-size="17.3">concentrate</text>
<g clip-path="url(#ca)"><text transform="translate(92.61,357.70) scale(1.0287,1)" font-size="17.3">Permeate, <tspan class="i">q</tspan><tspan class="i" font-size="11.8" dy="4.4">P</tspan></text></g>
<text transform="translate(194.67,394.70) scale(1.0541,1)" font-size="17.0">Overall water recovery (<tspan class="i">q</tspan><tspan class="i" font-size="11.8" dy="3.9">P</tspan><tspan class="i" dy="-3.9">/q</tspan><tspan class="i" font-size="11.8" dy="3.9">O</tspan><tspan dy="-3.9">)</tspan></text>
<text transform="translate(47.34,410.40) scale(1.0079,1)" font-size="19.5" class="i">Y =Y<tspan font-size="12.3" dy="4.4">SP</tspan></text>
<text transform="translate(532.55,409.00) scale(1.0041,1)" font-size="19.5">Y=100%</text>
<text transform="translate(17.90,329.29) rotate(-90) scale(0.9951,1)" font-size="20">Normalized flow rates,</text>
<text transform="translate(42.00,258.41) rotate(-90) scale(1.0772,1)" font-size="19" class="i">(q<tspan font-size="12.5" dy="3.5">O</tspan><tspan dy="-3.5">/q</tspan><tspan font-size="12.5" dy="3.5">O</tspan><tspan dy="-3.5">)</tspan></text>
<!-- arrows (a) -->
<line x1="70.8" y1="388.5" x2="70.8" y2="374.1" stroke="#000" stroke-width="1.5"/><path d="M70.8,363.6 L76.3,375.1 L65.3,375.1 Z" fill="#000"/><line x1="556.3" y1="387.5" x2="556.3" y2="372.9" stroke="#000" stroke-width="1.5"/><path d="M556.3,362.4 L561.8,373.9 L550.8,373.9 Z" fill="#000"/><line x1="112.6" y1="132.1" x2="96.5" y2="144.0" stroke="#000" stroke-width="1.5"/><path d="M88.1,150.2 L94.2,139.1 L100.5,147.6 Z" fill="#000"/><line x1="420.2" y1="153.2" x2="406.6" y2="141.8" stroke="#000" stroke-width="1.5"/><path d="M398.5,135.1 L410.7,138.4 L404.0,146.5 Z" fill="#000"/><line x1="183.3" y1="251.2" x2="158.1" y2="270.0" stroke="#000" stroke-width="1.5"/><path d="M149.7,276.3 L155.8,265.2 L162.1,273.6 Z" fill="#000"/><line x1="214.9" y1="355.1" x2="226.6" y2="346.3" stroke="#000" stroke-width="1.5"/><path d="M235.0,340.0 L229.0,351.1 L222.7,342.7 Z" fill="#000"/>
<g stroke="#000" fill="#000">
<line x1="293.9" y1="80.3" x2="304.5" y2="90.1" stroke-width="2.4"/>
<path d="M307.8,93.2 L306.2,84.8 L303.8,88.8 L299.2,90.7 Z" stroke-width="0.8" stroke-linejoin="round"/>
</g>

<!-- ===== (b) ===== -->
<g stroke="#111" stroke-width="1.6" stroke-dasharray="2.1 1.65" fill="none">
<line x1="728.9" y1="41.85" x2="728.9" y2="59"/>
<line x1="728.9" y1="110.2" x2="728.9" y2="358"/>
</g>
<path d="M728.9,364 L725.2,356.6 L732.6,356.6 Z" fill="#000"/>
<g fill="none" stroke="#000" clip-path="url(#cb)">
<path d="M729.03,198.65 L729.80,198.24 L730.56,197.83 L731.33,197.42 L732.09,197.01 L732.86,196.60 L733.62,196.18 L734.39,195.76 L735.16,195.34 L735.92,194.92 L736.69,194.49 L737.45,194.07 L738.22,193.64 L738.98,193.21 L739.75,192.78 L740.52,192.34 L741.28,191.90 L742.05,191.46 L742.81,191.02 L743.58,190.58 L744.34,190.13 L745.11,189.68 L745.88,189.23 L746.64,188.78 L747.41,188.32 L748.17,187.86 L748.94,187.40 L749.70,186.94 L750.47,186.48 L751.24,186.01 L752.00,185.54 L752.77,185.06 L753.53,184.59 L754.30,184.11 L755.06,183.63 L755.83,183.15 L756.60,182.66 L757.36,182.18 L758.13,181.68 L758.89,181.19 L759.66,180.70 L760.43,180.20 L761.19,179.70 L761.96,179.19 L762.72,178.68 L763.49,178.17 L764.25,177.66 L765.02,177.15 L765.79,176.63 L766.55,176.11 L767.32,175.58 L768.08,175.06 L768.85,174.53 L769.61,173.99 L770.38,173.46 L771.15,172.92 L771.91,172.38 L772.68,171.83 L773.44,171.28 L774.21,170.73 L774.97,170.18 L775.74,169.62 L776.51,169.06 L777.27,168.50 L778.04,167.93 L778.80,167.36 L779.57,166.79 L780.33,166.21 L781.10,165.63 L781.87,165.04 L782.63,164.46 L783.40,163.87 L784.16,163.27 L784.93,162.67 L785.69,162.07 L786.46,161.47 L787.23,160.86 L787.99,160.24 L788.76,159.63 L789.52,159.01 L790.29,158.39 L791.05,157.76 L791.82,157.13 L792.59,156.49 L793.35,155.85 L794.12,155.21 L794.88,154.56 L795.65,153.91 L796.41,153.26 L797.18,152.60 L797.95,151.93 L798.71,151.27 L799.48,150.60 L800.24,149.92 L801.01,149.24 L801.77,148.56 L802.54,147.87 L803.31,147.17 L804.07,146.48 L804.84,145.77 L805.60,145.07 L806.37,144.36 L807.13,143.64 L807.90,142.92 L808.67,142.19 L809.43,141.46 L810.20,140.73 L810.96,139.99 L811.73,139.24 L812.50,138.50 L813.26,137.74 L814.03,136.98 L814.79,136.22 L815.56,135.45 L816.32,134.67 L817.09,133.89 L817.86,133.11 L818.62,132.31 L819.39,131.52 L820.15,130.72 L820.92,129.91 L821.68,129.09 L822.45,128.28 L823.22,127.45 L823.98,126.62 L824.75,125.78 L825.51,124.94 L826.28,124.09 L827.04,123.24 L827.81,122.38 L828.58,121.51 L829.34,120.64 L830.11,119.76 L830.87,118.88 L831.64,117.99 L832.40,117.09 L833.17,116.18 L833.94,115.27 L834.70,114.35 L835.47,113.43 L836.23,112.50 L837.00,111.56 L837.76,110.61 L838.53,109.66 L839.30,108.70 L840.06,107.73 L840.83,106.76 L841.59,105.78 L842.36,104.79 L843.12,103.79 L843.89,102.79 L844.66,101.77 L845.42,100.75 L846.19,99.72 L846.95,98.69 L847.72,97.64 L848.48,96.59 L849.25,95.53 L850.02,94.46 L850.78,93.38 L851.55,92.29 L852.31,91.20 L853.08,90.09 L853.84,88.98 L854.61,87.86 L855.38,86.73 L856.14,85.59 L856.91,84.44 L857.67,83.28 L858.44,82.11 L859.20,80.93 L859.97,79.74 L860.74,78.54 L861.50,77.33 L862.27,76.11 L863.03,74.88 L863.80,73.64 L864.57,72.39 L865.33,71.13 L866.10,69.85 L866.86,68.57 L867.63,67.27 L868.39,65.97 L869.16,64.65 L869.93,63.32 L870.69,61.98 L871.46,60.62 L872.22,59.26 L872.99,57.88 L873.75,56.49 L874.52,55.08 L875.29,53.67 L876.05,52.24 L876.82,50.79 L877.58,49.34 L878.35,47.87 L879.11,46.39 L879.88,44.89 L880.65,43.38 L881.41,41.85" stroke-width="2.5"/>
<path d="M729.03,279.28 L730.19,278.97 L731.35,278.65 L732.51,278.33 L733.67,278.00 L734.83,277.68 L735.99,277.35 L737.15,277.02 L738.31,276.69 L739.47,276.35 L740.63,276.01 L741.78,275.67 L742.94,275.33 L744.10,274.98 L745.26,274.63 L746.42,274.28 L747.58,273.93 L748.74,273.57 L749.90,273.21 L751.06,272.85 L752.22,272.48 L753.38,272.11 L754.54,271.74 L755.70,271.37 L756.86,270.99 L758.02,270.61 L759.18,270.23 L760.34,269.84 L761.50,269.45 L762.66,269.05 L763.82,268.66 L764.98,268.26 L766.14,267.85 L767.29,267.45 L768.45,267.04 L769.61,266.62 L770.77,266.21 L771.93,265.79 L773.09,265.36 L774.25,264.93 L775.41,264.50 L776.57,264.07 L777.73,263.63 L778.89,263.18 L780.05,262.74 L781.21,262.28 L782.37,261.83 L783.53,261.37 L784.69,260.91 L785.85,260.44 L787.01,259.97 L788.17,259.49 L789.33,259.01 L790.49,258.53 L791.65,258.04 L792.80,257.54 L793.96,257.04 L795.12,256.54 L796.28,256.03 L797.44,255.52 L798.60,255.00 L799.76,254.48 L800.92,253.95 L802.08,253.42 L803.24,252.88 L804.40,252.34 L805.56,251.79 L806.72,251.24 L807.88,250.68 L809.04,250.11 L810.20,249.54 L811.36,248.97 L812.52,248.38 L813.68,247.80 L814.84,247.20 L816.00,246.60 L817.16,246.00 L818.31,245.38 L819.47,244.76 L820.63,244.14 L821.79,243.51 L822.95,242.87 L824.11,242.22 L825.27,241.57 L826.43,240.91 L827.59,240.25 L828.75,239.57 L829.91,238.89 L831.07,238.20 L832.23,237.51 L833.39,236.80 L834.55,236.09 L835.71,235.37 L836.87,234.65 L838.03,233.91 L839.19,233.17 L840.35,232.41 L841.51,231.65 L842.67,230.88 L843.82,230.10 L844.98,229.31 L846.14,228.52 L847.30,227.71 L848.46,226.89 L849.62,226.06 L850.78,225.23 L851.94,224.38 L853.10,223.52 L854.26,222.66 L855.42,221.78 L856.58,220.89 L857.74,219.99 L858.90,219.08 L860.06,218.15 L861.22,217.22 L862.38,216.27 L863.54,215.31 L864.70,214.34 L865.86,213.35 L867.02,212.35 L868.17,211.34 L869.33,210.32 L870.49,209.28 L871.65,208.23 L872.81,207.16 L873.97,206.08 L875.13,204.98 L876.29,203.87 L877.45,202.74 L878.61,201.60 L879.77,200.44 L880.93,199.26 L882.09,198.07 L883.25,196.85 L884.41,195.63 L885.57,194.38 L886.73,193.11 L887.89,191.83 L889.05,190.52 L890.21,189.20 L891.37,187.86 L892.53,186.49 L893.68,185.11 L894.84,183.70 L896.00,182.27 L897.16,180.81 L898.32,179.34 L899.48,177.84 L900.64,176.31 L901.80,174.76 L902.96,173.19 L904.12,171.58 L905.28,169.95 L906.44,168.30 L907.60,166.61 L908.76,164.90 L909.92,163.15 L911.08,161.38 L912.24,159.57 L913.40,157.73 L914.56,155.86 L915.72,153.95 L916.88,152.01 L918.04,150.03 L919.19,148.01 L920.35,145.96 L921.51,143.86 L922.67,141.73 L923.83,139.55 L924.99,137.34 L926.15,135.07 L927.31,132.76 L928.47,130.41 L929.63,128.01 L930.79,125.55 L931.95,123.05 L933.11,120.49 L934.27,117.87 L935.43,115.20 L936.59,112.48 L937.75,109.69 L938.91,106.84 L940.07,103.92 L941.23,100.94 L942.39,97.89 L943.55,94.76 L944.70,91.57 L945.86,88.29 L947.02,84.94 L948.18,81.50 L949.34,77.98 L950.50,74.37 L951.66,70.67 L952.82,66.87 L953.98,62.98 L955.14,58.98 L956.30,54.87 L957.46,50.65 L958.62,46.31 L959.78,41.85" stroke-width="2.5"/>
<path d="M729.03,319.60 L730.39,319.41 L731.74,319.21 L733.10,319.01 L734.46,318.81 L735.81,318.61 L737.17,318.41 L738.53,318.20 L739.88,317.99 L741.24,317.79 L742.59,317.58 L743.95,317.36 L745.31,317.15 L746.66,316.93 L748.02,316.71 L749.38,316.49 L750.73,316.27 L752.09,316.04 L753.45,315.82 L754.80,315.59 L756.16,315.36 L757.52,315.12 L758.87,314.89 L760.23,314.65 L761.58,314.41 L762.94,314.17 L764.30,313.92 L765.65,313.67 L767.01,313.43 L768.37,313.17 L769.72,312.92 L771.08,312.66 L772.44,312.40 L773.79,312.14 L775.15,311.87 L776.51,311.61 L777.86,311.33 L779.22,311.06 L780.57,310.79 L781.93,310.51 L783.29,310.22 L784.64,309.94 L786.00,309.65 L787.36,309.36 L788.71,309.07 L790.07,308.77 L791.43,308.47 L792.78,308.16 L794.14,307.86 L795.50,307.55 L796.85,307.23 L798.21,306.92 L799.57,306.59 L800.92,306.27 L802.28,305.94 L803.63,305.61 L804.99,305.27 L806.35,304.93 L807.70,304.59 L809.06,304.24 L810.42,303.89 L811.77,303.54 L813.13,303.18 L814.49,302.81 L815.84,302.44 L817.20,302.07 L818.56,301.69 L819.91,301.31 L821.27,300.92 L822.62,300.53 L823.98,300.14 L825.34,299.73 L826.69,299.33 L828.05,298.92 L829.41,298.50 L830.76,298.08 L832.12,297.65 L833.48,297.22 L834.83,296.78 L836.19,296.33 L837.55,295.88 L838.90,295.43 L840.26,294.96 L841.61,294.49 L842.97,294.02 L844.33,293.54 L845.68,293.05 L847.04,292.55 L848.40,292.05 L849.75,291.54 L851.11,291.03 L852.47,290.50 L853.82,289.97 L855.18,289.43 L856.54,288.89 L857.89,288.33 L859.25,287.77 L860.61,287.20 L861.96,286.62 L863.32,286.03 L864.67,285.43 L866.03,284.82 L867.39,284.21 L868.74,283.58 L870.10,282.94 L871.46,282.30 L872.81,281.64 L874.17,280.97 L875.53,280.30 L876.88,279.61 L878.24,278.91 L879.60,278.20 L880.95,277.47 L882.31,276.74 L883.66,275.99 L885.02,275.23 L886.38,274.45 L887.73,273.66 L889.09,272.86 L890.45,272.04 L891.80,271.21 L893.16,270.37 L894.52,269.50 L895.87,268.63 L897.23,267.73 L898.59,266.82 L899.94,265.89 L901.30,264.95 L902.65,263.98 L904.01,263.00 L905.37,262.00 L906.72,260.97 L908.08,259.93 L909.44,258.86 L910.79,257.78 L912.15,256.67 L913.51,255.53 L914.86,254.38 L916.22,253.20 L917.58,251.99 L918.93,250.75 L920.29,249.49 L921.65,248.20 L923.00,246.88 L924.36,245.53 L925.71,244.15 L927.07,242.74 L928.43,241.29 L929.78,239.81 L931.14,238.29 L932.50,236.74 L933.85,235.15 L935.21,233.51 L936.57,231.84 L937.92,230.12 L939.28,228.35 L940.64,226.54 L941.99,224.68 L943.35,222.77 L944.70,220.80 L946.06,218.78 L947.42,216.71 L948.77,214.57 L950.13,212.37 L951.49,210.10 L952.84,207.77 L954.20,205.36 L955.56,202.88 L956.91,200.32 L958.27,197.68 L959.63,194.95 L960.98,192.13 L962.34,189.22 L963.69,186.20 L965.05,183.08 L966.41,179.85 L967.76,176.50 L969.12,173.02 L970.48,169.42 L971.83,165.68 L973.19,161.79 L974.55,157.74 L975.90,153.53 L977.26,149.15 L978.62,144.58 L979.97,139.81 L981.33,134.83 L982.69,129.63 L984.04,124.18 L985.40,118.47 L986.75,112.49 L988.11,106.20 L989.47,99.60 L990.82,92.65 L992.18,85.32 L993.54,77.59 L994.89,69.42 L996.25,60.77 L997.61,51.60 L998.96,41.85" stroke-width="1.8"/>
</g>
<g stroke="#000" stroke-width="1.25" fill="none"><line x1="763.9" y1="364.4" x2="763.9" y2="358.4"/><line x1="833.5" y1="364.4" x2="833.5" y2="358.4"/><line x1="903.2" y1="364.4" x2="903.2" y2="358.4"/><line x1="972.8" y1="364.4" x2="972.8" y2="358.4"/><line x1="694.75" y1="284.2" x2="699.45" y2="284.2"/><line x1="694.75" y1="203.5" x2="699.45" y2="203.5"/><line x1="694.75" y1="122.9" x2="699.45" y2="122.9"/></g>
<g stroke="#000" fill="none">
<line x1="693.55" y1="41.85" x2="1043.8" y2="41.85" stroke-width="3.2"/>
<line x1="693.55" y1="364.4" x2="1043.8" y2="364.4" stroke-width="2.8"/>
<line x1="694.75" y1="41.85" x2="694.75" y2="364.4" stroke-width="2.4"/>
<line x1="1042.6" y1="41.85" x2="1042.6" y2="364.4" stroke-width="2.4"/>
</g>
<text transform="translate(875.09,18.90) scale(1.0785,1)" font-size="17.5">(b)</text>
<text transform="translate(793.88,411.00) scale(1.0455,1)" font-size="16.3">Overall water recovery, <tspan class="i">Y</tspan></text>
<text transform="translate(625.60,303.03) rotate(-90) scale(1.0638,1)" font-size="16.8">Normalized specific energy</text>
<text transform="translate(647.20,284.63) rotate(-90) scale(1.0601,1)" font-size="16.8">consumption (SEC/<tspan class="i" font-size="18.5">π</tspan><tspan class="i" font-size="12" dy="4.5">o</tspan><tspan dy="-4.5">)</tspan></text>
<text transform="translate(710.62,102.20) scale(0.9900,1)" font-size="17.5" class="i">Y<tspan font-size="11.4" dy="4">SP</tspan><tspan dy="-4">=10%</tspan></text>
<text transform="translate(765.30,143.40) scale(0.9957,1)" font-size="16.8" class="i">η<tspan font-size="11.4" dy="4">ER</tspan><tspan dy="-4">=</tspan></text>
<text transform="translate(764.72,198.10) scale(1.0540,1)" font-size="16.8" class="i">70%</text>
<text transform="translate(765.04,253.10) scale(1.0443,1)" font-size="16.8" class="i">90%</text>
<text transform="translate(755.65,301.30) scale(1.0083,1)" font-size="16.8" class="i">100%</text>
<text transform="translate(669.76,48.30) scale(1.0500,1)" font-size="17">8</text>
<text transform="translate(669.63,129.00) scale(1.0500,1)" font-size="17">6</text>
<text transform="translate(669.76,209.60) scale(1.0500,1)" font-size="17">4</text>
<text transform="translate(669.89,289.30) scale(1.0500,1)" font-size="17">2</text>
<text transform="translate(669.76,370.00) scale(1.0500,1)" font-size="17">0</text>
<text transform="translate(688.76,391.00) scale(1.0500,1)" font-size="17">0</text>
<text transform="translate(751.86,391.00) scale(1.0500,1)" font-size="17">0.2</text>
<text transform="translate(821.10,391.00) scale(1.0500,1)" font-size="17">0.4</text>
<text transform="translate(891.33,391.00) scale(1.0500,1)" font-size="17">0.6</text>
<text transform="translate(961.13,391.00) scale(1.0500,1)" font-size="17">0.8</text>
<g clip-path="url(#c1)"><text transform="translate(1038.5,391) scale(1.05,1)" font-size="17">1</text></g>
</svg>
</body></html>
